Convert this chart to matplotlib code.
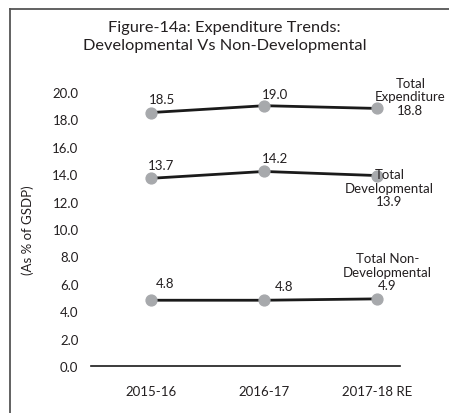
import matplotlib
matplotlib.use("Agg")
import matplotlib.pyplot as plt
from matplotlib.lines import Line2D

plt.rcParams['font.family'] = ['Lato', 'DejaVu Sans']

years = ["2015-16", "2016-17", "2017-18 RE"]
total_exp = [18.5, 19.0, 18.8]
total_dev = [13.7, 14.2, 13.9]
total_nondev = [4.8, 4.8, 4.9]
yticks = [0, 2, 4, 6, 8, 10, 12, 14, 16, 18, 20]

TXT = '#231f20'
PT = 72 / 100.  # pixels -> points at dpi 100
FS = 9.5

fig = plt.figure(figsize=(4.49, 4.14), dpi=100)
ax = fig.add_axes([91 / 449, 1 - 367 / 414, 309 / 449, 274 / 414])

xs = [0, 1, 2]
for vals in (total_exp, total_dev, total_nondev):
    ax.plot(xs, vals, color='#1a1a1a', lw=2, zorder=2, solid_capstyle='round')
    ax.plot(xs, vals, 'o', color='#a7a9ac', ms=7.8, zorder=3)

ax.set_xlim(-0.53, 2.2)
ax.set_ylim(0, 20)
ax.set_xticks(xs)
ax.set_xticklabels(years)
ax.set_yticks(yticks)
ax.set_yticklabels(["%.1f" % t for t in yticks])
ax.tick_params(length=0, labelsize=FS, colors=TXT)
ax.tick_params(axis='x', pad=14)
ax.tick_params(axis='y', pad=9)
for s in ('top', 'right', 'left'):
    ax.spines[s].set_visible(False)
ax.spines['bottom'].set_color('#1a1a1a')
ax.spines['bottom'].set_linewidth(1.2)

ax.set_ylabel("(As % of GSDP)", fontsize=FS, color=TXT, labelpad=13)


def label(x, y, text, dx, dy):
    ax.annotate(text, (x, y), xytext=(dx * PT, dy * PT), textcoords='offset points',
                ha='center', va='center', fontsize=FS, color=TXT,
                linespacing=1.15, annotation_clip=False)


# values on the first two points of each series
offs = {0: [(11, 13.5), (11, 12)], 1: [(10, 13), (11, 13.5)], 2: [(14, 17), (20, 14)]}
for i, vals in enumerate((total_exp, total_dev, total_nondev)):
    for j in range(2):
        dx, dy = offs[i][j]
        label(xs[j], vals[j], "%.1f" % vals[j], dx, dy)

# series names with the last value
label(2, total_exp[2], "Total\nExpenditure\n%.1f" % total_exp[2], 33, 12)
label(2, total_dev[2], "Total\nDevelopmental\n%.1f" % total_dev[2], 12, -12)
label(2, total_nondev[2], "Total Non-\nDevelopmental\n%.1f" % total_nondev[2], 10, 27)

fig.text(0.5, 1 - 37 / 414, "Figure-14a: Expenditure Trends:\nDevelopmental Vs Non-Developmental",
         ha='center', va='center', fontsize=11.8, color=TXT, linespacing=1.3)

# frame lines
fig.add_artist(Line2D([9.5 / 449, 9.5 / 449], [0, 1 - 9.5 / 414], color='#555555', lw=1.3,
                      transform=fig.transFigure))
fig.add_artist(Line2D([9.5 / 449, 1], [1 - 9.5 / 414, 1 - 9.5 / 414], color='#555555', lw=1.3,
                      transform=fig.transFigure))

fig.savefig("out.png", dpi=100)
